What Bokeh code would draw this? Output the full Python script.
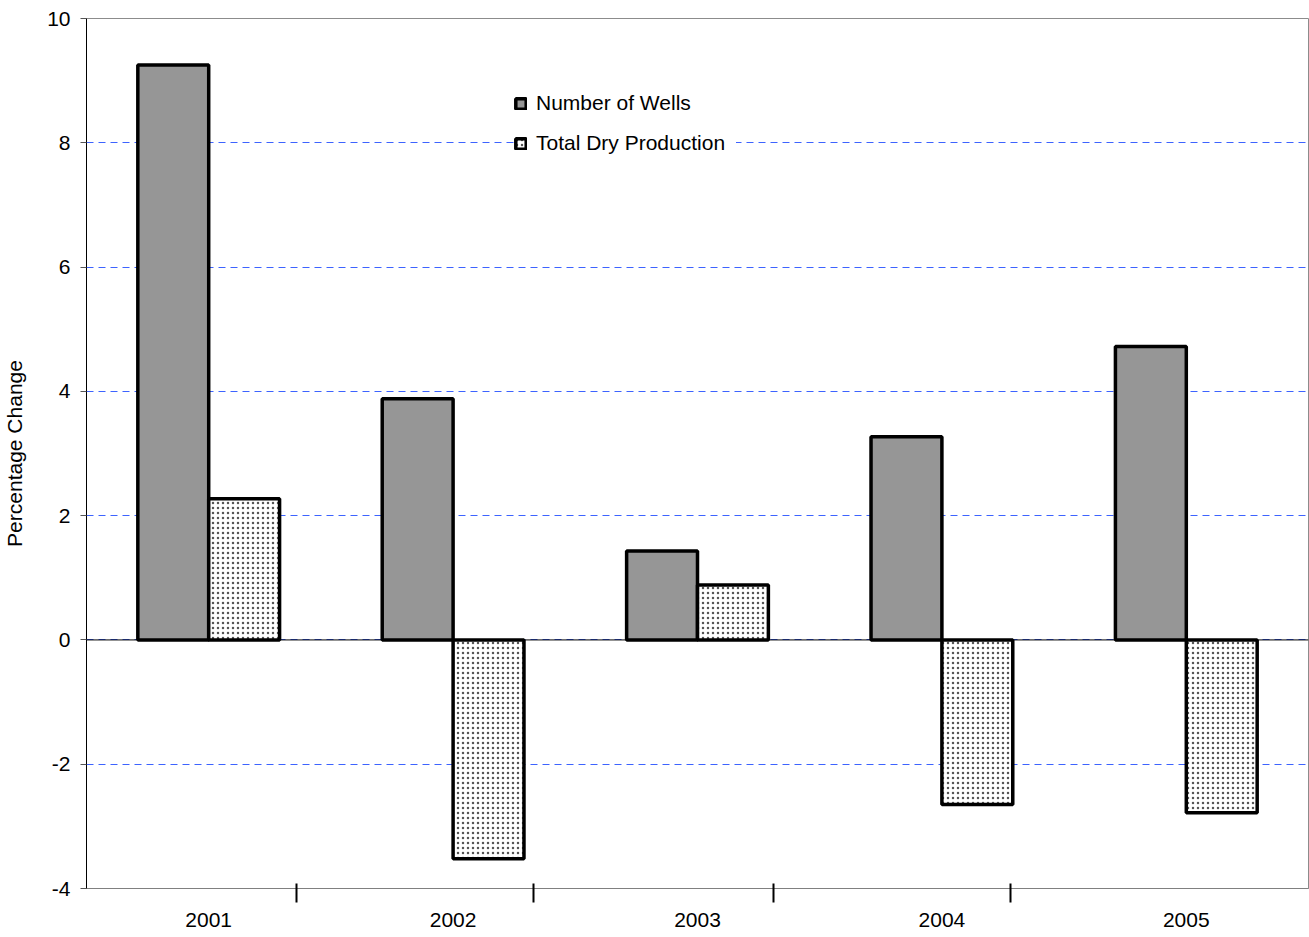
from bokeh.plotting import figure
from bokeh.models import ColumnDataSource, FixedTicker, Legend, LegendItem, Span, Range1d
from bokeh.transform import dodge
from bokeh.embed import file_html
from bokeh.resources import INLINE

years = ["2001", "2002", "2003", "2004", "2005"]
wells = [9.25, 3.88, 1.43, 3.27, 4.72]
dry_production = [2.27, -3.52, 0.885, -2.65, -2.78]
y_ticks = [-4, -2, 0, 2, 4, 6, 8, 10]

FONT = "Liberation Sans"
FS = "21px"

src = ColumnDataSource(dict(x=list(range(len(years))), wells=wells, dry=dry_production))

p = figure(width=1309, height=937, output_backend="svg", toolbar_location=None,
           x_range=Range1d(-0.5, len(years) - 0.5), y_range=Range1d(-4, 10),
           min_border_left=80, min_border_right=1, min_border_top=18, min_border_bottom=49)
p.background_fill_color = "white"
p.border_fill_color = "white"
p.outline_line_color = "#8c8c8c"
p.outline_line_width = 1

r1 = p.vbar(x=dodge("x", -0.145, range=p.x_range), top="wells", bottom=0, width=0.29, source=src,
            fill_color="#969696", line_color="black", line_width=3.5)
r2 = p.vbar(x=dodge("x", 0.145, range=p.x_range), top="dry", bottom=0, width=0.29, source=src,
            fill_color="white", line_color="black", line_width=3.5,
            hatch_pattern="dot", hatch_color="#555555", hatch_scale=5, hatch_weight=1.2)

p.add_layout(Span(location=0, dimension="width", line_color="black", line_width=1), "center")

# grid
p.xgrid.grid_line_color = None
p.ygrid.ticker = FixedTicker(ticks=y_ticks)
p.ygrid.grid_line_color = "#3d63ff"
p.ygrid.grid_line_dash = "7 5"
p.ygrid.grid_line_width = 1

# y axis
p.yaxis.ticker = FixedTicker(ticks=y_ticks)
p.yaxis.major_label_overrides = {t: str(t) for t in y_ticks}
p.yaxis.axis_line_color = "black"
p.yaxis.major_tick_line_color = "#555555"
p.yaxis.major_tick_out = 6
p.yaxis.major_tick_in = 0
p.yaxis.minor_tick_line_color = None
p.yaxis.major_label_text_font = FONT
p.yaxis.major_label_text_font_size = FS
p.yaxis.major_label_text_color = "black"
p.yaxis.major_label_standoff = 10
p.yaxis.axis_label = "Percentage Change"
p.yaxis.axis_label_text_font = FONT
p.yaxis.axis_label_text_font_size = FS
p.yaxis.axis_label_text_font_style = "normal"
p.yaxis.axis_label_text_color = "black"
p.yaxis.axis_label_standoff = 18

# x axis
p.xaxis.ticker = FixedTicker(ticks=list(range(len(years))), minor_ticks=[0.36, 1.33, 2.31, 3.28])
p.xaxis.major_label_overrides = {i: y for i, y in enumerate(years)}
p.xaxis.major_tick_line_color = None
p.xaxis.major_tick_out = 0
p.xaxis.major_tick_in = 0
p.xaxis.minor_tick_line_color = "black"
p.xaxis.minor_tick_line_width = 2
p.xaxis.minor_tick_in = 5
p.xaxis.minor_tick_out = 14
p.xaxis.axis_line_color = "#808080"
p.xaxis.major_label_text_font = FONT
p.xaxis.major_label_text_font_size = FS
p.xaxis.major_label_text_color = "black"
p.xaxis.major_label_standoff = 10

legend = Legend(items=[LegendItem(label="Number of Wells", renderers=[r1]),
                       LegendItem(label="Total Dry Production", renderers=[r2])],
                location=(428, 733), orientation="vertical",
                background_fill_color="white", background_fill_alpha=1.0,
                border_line_color=None, padding=4, margin=0, spacing=16,
                label_height=24, label_width=200, glyph_height=13, glyph_width=13, label_standoff=9,
                label_text_font=FONT, label_text_font_size=FS, label_text_color="black")
p.add_layout(legend, "center")

open("out.html", "w").write(file_html(p, INLINE))
